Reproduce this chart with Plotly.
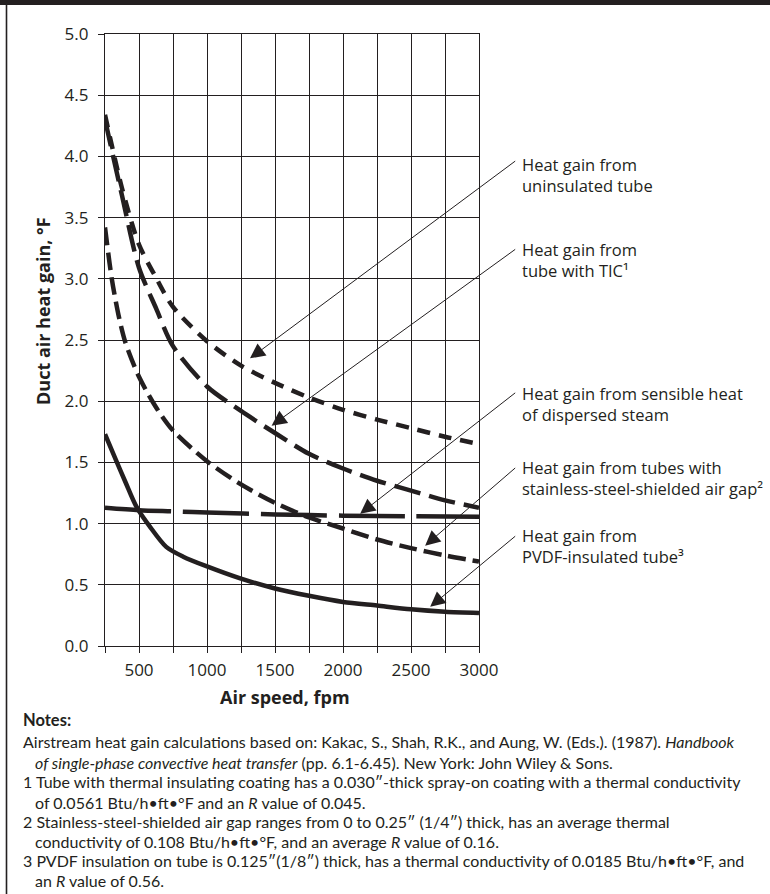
import plotly.graph_objects as go

INK = "#231f20"
FONT = "Open Sans"
NOTE_FONT = "Lato"

# ---------------- data ----------------
unins_x = [250, 375, 500, 625, 750, 1000, 1250, 1500, 1750, 2000, 2250, 2500, 2750, 3000]
unins_y = [4.34, 3.74, 3.28, 3.01, 2.77, 2.49, 2.29, 2.15, 2.03, 1.93, 1.85, 1.78, 1.71, 1.65]

tic_x = [250, 375, 500, 625, 750, 1000, 1250, 1500, 1750, 2000, 2250, 2500, 2750, 3000]
tic_y = [4.30, 3.68, 3.09, 2.76, 2.45, 2.12, 1.92, 1.74, 1.57, 1.45, 1.35, 1.27, 1.19, 1.13]

ss_x = [250, 300, 350, 400, 500, 625, 750, 1000, 1250, 1500, 1750, 2000, 2250, 2500, 2750, 3000]
ss_y = [3.42, 3.00, 2.70, 2.48, 2.20, 1.95, 1.76, 1.51, 1.32, 1.17, 1.05, 0.96, 0.87, 0.80, 0.74, 0.69]

steam_x = [250, 500, 750, 1000, 1500, 2000, 2500, 3000]
steam_y = [1.13, 1.11, 1.10, 1.09, 1.075, 1.065, 1.06, 1.055]

pvdf_x = [250, 330, 400, 480, 580, 700, 825, 1000, 1250, 1500, 1750, 2000, 2250, 2500, 2750, 3000]
pvdf_y = [1.73, 1.52, 1.34, 1.14, 0.975, 0.81, 0.73, 0.65, 0.55, 0.47, 0.41, 0.36, 0.33, 0.30, 0.28, 0.27]

x_ticks = [500, 1000, 1500, 2000, 2500, 3000]
y_ticks = [0.0, 0.5, 1.0, 1.5, 2.0, 2.5, 3.0, 3.5, 4.0, 4.5, 5.0]

labels = [
    "Heat gain from<br>uninsulated tube",
    "Heat gain from<br>tube with TIC¹",
    "Heat gain from sensible heat<br>of dispersed steam",
    "Heat gain from tubes with<br>stainless-steel-shielded air gap²",
    "Heat gain from<br>PVDF-insulated tube³",
]
# arrow tips (data units)
tip_x = [1316, 1475, 2126, 2604, 2641]
tip_y = [2.35, 1.80, 1.08, 0.82, 0.32]

notes = [
    "Airstream heat gain calculations based on: Kakac, S., Shah, R.K., and Aung, W. (Eds.). (1987). <i>Handbook</i>",
    "  <i>of single-phase convective heat transfer</i> (pp. 6.1-6.45). New York: John Wiley &amp; Sons.",
    "1 Tube with thermal insulating coating has a 0.030″-thick spray-on coating with a thermal conductivity",
    "  of 0.0561 Btu/h•ft•°F and an <i>R</i> value of 0.045.",
    "2 Stainless-steel-shielded air gap ranges from 0 to 0.25″ (1/4″) thick, has an average thermal",
    "  conductivity of 0.108 Btu/h•ft•°F, and an average <i>R</i> value of 0.16.",
    "3 PVDF insulation on tube is 0.125″(1/8″) thick, has a thermal conductivity of 0.0185 Btu/h•ft•°F, and",
    "  an <i>R</i> value of 0.56.",
]

# ---------------- geometry ----------------
W, H = 770, 894
L, R, T, B = 105, 291, 34, 248
PW, PH = W - L - R, H - T - B


def px(xp):
    return (xp - L) / PW


def py(yp):
    return (H - B - yp) / PH


def dx(xp):
    return 250 + (xp - L) / PW * 2750


def dy(yp):
    return (H - B - yp) / PH * 5


fig = go.Figure()

series = [
    (unins_x, unins_y, "13px,9px"),
    (tic_x, tic_y, "27px,9px"),
    (ss_x, ss_y, "18px,7px"),
    (steam_x, steam_y, "66px,12px"),
    (pvdf_x, pvdf_y, "solid"),
]
for xs, ys, dash in series:
    fig.add_trace(go.Scatter(
        x=xs, y=ys, mode="lines",
        line=dict(color=INK, width=4.5, dash=dash, shape="spline", smoothing=0.8),
        hoverinfo="skip", showlegend=False,
    ))

annotations = []
label_y = [175, 260, 404, 478, 546]
tail_y = [160, 248.3, 391.7, 466.7, 535]
for i, lab in enumerate(labels):
    annotations.append(dict(
        x=tip_x[i], y=tip_y[i], xref="x", yref="y",
        ax=dx(516.7), ay=dy(tail_y[i]), axref="x", ayref="y",
        text="", showarrow=True, arrowhead=2, arrowsize=3.0, arrowwidth=1,
        arrowcolor=INK, standoff=0,
    ))
    annotations.append(dict(
        x=px(520), y=py(label_y[i]), xref="paper", yref="paper",
        xanchor="left", yanchor="middle", align="left", showarrow=False,
        text=lab, font=dict(family=FONT, size=16.5, color=INK),
    ))

# axis titles
annotations.append(dict(
    x=px(43), y=py(311), xref="paper", yref="paper", showarrow=False,
    text="<b>Duct air heat gain, °F</b>", textangle=-90,
    font=dict(family=FONT, size=18, color=INK), xanchor="center", yanchor="middle",
))
annotations.append(dict(
    x=px(285), y=py(697), xref="paper", yref="paper", showarrow=False,
    text="<b>Air speed, fpm</b>",
    font=dict(family=FONT, size=18, color=INK), xanchor="center", yanchor="middle",
))

# notes
annotations.append(dict(
    x=px(21), y=py(720), xref="paper", yref="paper", showarrow=False,
    text="<b>Notes:</b>", xanchor="left", yanchor="middle",
    font=dict(family=NOTE_FONT, size=16.5, color=INK),
))
note_y = [742, 762, 781.7, 802, 821.7, 841, 860, 880]
for i, t in enumerate(notes):
    indent = t.startswith("  ")
    annotations.append(dict(
        x=px(33 if indent else 21), y=py(note_y[i]), xref="paper", yref="paper",
        showarrow=False, text=t.strip(), xanchor="left", yanchor="middle",
        font=dict(family=NOTE_FONT, size=16, color=INK),
    ))

shapes = [
    dict(type="rect", xref="paper", yref="paper", x0=px(0), x1=px(W), y0=py(0), y1=py(5),
         fillcolor=INK, line=dict(width=0), layer="above"),
    dict(type="line", xref="paper", yref="paper", x0=px(6.5), x1=px(6.5), y0=py(5), y1=py(H),
         line=dict(color=INK, width=1.6)),
]

axis_common = dict(
    showline=True, mirror=True, linecolor=INK, linewidth=1.3,
    showgrid=True, gridcolor=INK, gridwidth=1.2,
    ticks="outside", ticklen=6, tickcolor=INK, tickwidth=1.2,
    tickfont=dict(family=FONT, size=17, color=INK),
    zeroline=False, fixedrange=True,
)

fig.update_layout(
    width=W, height=H,
    margin=dict(l=L, r=R, t=T, b=B, autoexpand=False),
    paper_bgcolor="white", plot_bgcolor="white",
    xaxis=dict(range=[250, 3000], tickvals=x_ticks, ticklabelstandoff=2,
               minor=dict(dtick=250, tick0=0, ticks="outside", ticklen=6, tickcolor=INK,
                          showgrid=True, gridcolor=INK, gridwidth=1.2),
               **axis_common),
    yaxis=dict(range=[0, 5], tickvals=y_ticks, tickformat=".1f", ticklabelstandoff=6,
               **axis_common),
    annotations=annotations,
    shapes=shapes,
    showlegend=False,
)

fig.write_html("out.html")
